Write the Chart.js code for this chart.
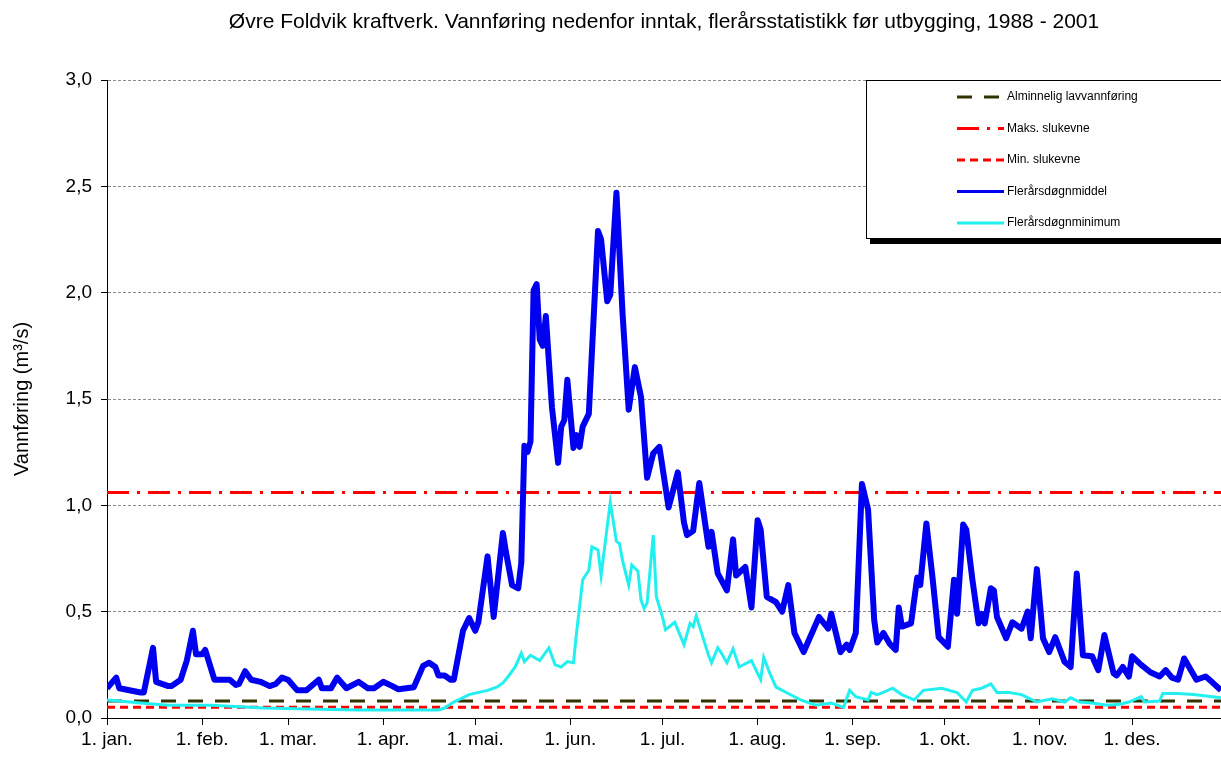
<!DOCTYPE html>
<html>
<head>
<meta charset="utf-8">
<script src="https://cdn.jsdelivr.net/npm/chart.js@4.4.1/dist/chart.umd.min.js"></script>
<style>
html, body { margin: 0; padding: 0; background: #fff; }
#ramme { width: 1221px; height: 763px; }
</style>
</head>
<body>
<div id="ramme"><canvas id="grafica" width="1221" height="763"></canvas></div>
<script>
// Dag i året (0 = 1. jan.) og vannføring i m3/s, lest av figuren
const manedDager = [0, 31, 59, 90, 120, 151, 181, 212, 243, 273, 304, 334];
const manedNavn = ["1. jan.", "1. feb.", "1. mar.", "1. apr.", "1. mai.", "1. jun.", "1. jul.", "1. aug.", "1. sep.", "1. okt.", "1. nov.", "1. des."];
const sisteDag = 363;

const middelDag = [0,3,4,11,12,15,16,20,21,24,26,28,29,31,32,35,40,42,43,45,47,50,53,55,57,59,62,65,69,70,73,75,78,82,85,87,90,93,95,100,103,105,107,108,110,112,113,116,118,120,121,124,126,129,130,132,134,135,136,137,138,139,140,141,142,143,145,147,148,149,150,152,153,154,155,157,160,161,163,164,166,168,170,172,174,176,178,180,183,186,188,189,191,193,196,197,199,202,204,205,208,210,212,213,215,218,220,222,224,227,232,235,236,239,241,242,244,246,248,250,251,253,255,257,258,259,262,264,265,267,269,271,274,276,277,279,280,282,284,285,286,288,289,290,293,295,298,300,301,303,305,307,309,312,314,316,318,321,323,325,328,329,331,333,334,337,340,343,345,347,349,351,355,358,360,363];
const middelVerdi = [0.14,0.19,0.14,0.12,0.12,0.33,0.17,0.15,0.15,0.18,0.27,0.41,0.30,0.30,0.32,0.18,0.18,0.155,0.16,0.22,0.18,0.17,0.15,0.16,0.19,0.18,0.13,0.13,0.18,0.14,0.14,0.19,0.14,0.17,0.14,0.14,0.17,0.15,0.135,0.145,0.245,0.26,0.24,0.20,0.20,0.18,0.18,0.41,0.47,0.41,0.45,0.76,0.475,0.87,0.78,0.625,0.61,0.73,1.28,1.25,1.30,2.01,2.04,1.78,1.75,1.89,1.46,1.20,1.37,1.40,1.59,1.27,1.33,1.275,1.37,1.43,2.29,2.25,1.96,1.99,2.47,1.90,1.45,1.65,1.51,1.13,1.245,1.275,0.99,1.155,0.92,0.86,0.88,1.105,0.805,0.875,0.68,0.60,0.84,0.67,0.71,0.52,0.93,0.885,0.57,0.545,0.50,0.625,0.40,0.31,0.475,0.42,0.49,0.31,0.345,0.32,0.40,1.10,0.98,0.46,0.355,0.40,0.35,0.32,0.52,0.43,0.445,0.66,0.625,0.915,0.66,0.38,0.335,0.65,0.49,0.91,0.885,0.65,0.445,0.49,0.445,0.61,0.60,0.475,0.375,0.45,0.42,0.50,0.375,0.70,0.375,0.31,0.38,0.265,0.24,0.68,0.295,0.29,0.225,0.39,0.21,0.20,0.24,0.195,0.29,0.25,0.215,0.195,0.225,0.19,0.18,0.28,0.18,0.195,0.17,0.13];

const minimumDag = [0,11,20,34,51,66,82,108,110,113,118,124,127,129,131,133,135,136,138,141,144,146,148,150,152,153,155,157,158,160,161,164,166,167,168,170,171,173,174,175,176,178,179,181,182,185,188,190,191,192,196,197,199,200,202,204,206,210,213,214,216,218,222,226,231,236,240,242,244,248,249,251,253,256,259,263,266,272,277,280,282,285,288,290,294,298,303,308,312,314,317,321,326,330,333,337,338,343,344,349,354,363];
const minimumVerdi = [0.085,0.07,0.06,0.06,0.047,0.042,0.038,0.038,0.047,0.075,0.11,0.13,0.145,0.165,0.20,0.24,0.305,0.265,0.295,0.27,0.33,0.25,0.24,0.265,0.26,0.40,0.65,0.695,0.805,0.79,0.67,1.015,0.83,0.82,0.74,0.625,0.72,0.69,0.555,0.515,0.54,0.86,0.57,0.475,0.415,0.45,0.345,0.445,0.43,0.48,0.295,0.26,0.33,0.31,0.26,0.325,0.24,0.27,0.18,0.285,0.21,0.145,0.115,0.085,0.06,0.07,0.05,0.13,0.10,0.085,0.12,0.11,0.12,0.14,0.11,0.085,0.13,0.14,0.12,0.075,0.13,0.14,0.16,0.12,0.12,0.11,0.075,0.09,0.075,0.095,0.075,0.07,0.06,0.065,0.075,0.10,0.075,0.08,0.115,0.115,0.11,0.095];

const lavvannforing = 0.08;
const maksSlukevne = 1.06;
const minSlukevne = 0.05;

const tittel = "Øvre Foldvik kraftverk. Vannføring nedenfor inntak, flerårsstatistikk før utbygging, 1988 - 2001";
const skrift = "'Liberation Sans', Arial, sans-serif";

function punkter(dager, verdier) {
    return dager.map((d, i) => ({ x: d, y: verdier[i] }));
}
function vannrett(v) {
    return [{ x: 0, y: v }, { x: sisteDag, y: v }];
}

// tegner forklaringsboksen med skygge oppe til høyre
const legendeRekkefolge = ["Alminnelig lavvannføring", "Maks. slukevne", "Min. slukevne", "Flerårsdøgnmiddel", "Flerårsdøgnminimum"];
const legendeBoks = {
    id: "legendeBoks",
    afterDraw(chart) {
        const ctx = chart.ctx;
        const x0 = 866, y0 = 80, b = 370, h = 158;
        ctx.save();
        ctx.fillStyle = "#000";
        ctx.fillRect(x0 + 4, y0 + 4, b, h + 2);
        ctx.fillStyle = "#fff";
        ctx.fillRect(x0, y0, b, h);
        ctx.strokeStyle = "#000";
        ctx.lineWidth = 1;
        ctx.strokeRect(x0 + 0.5, y0 + 0.5, b, h);
        ctx.font = "12px " + skrift;
        ctx.textBaseline = "middle";
        legendeRekkefolge.forEach((navn, i) => {
            const ds = chart.data.datasets.find(d => d.label === navn);
            const y = 97 + i * 31.5;
            ctx.beginPath();
            ctx.setLineDash(ds.borderDash || []);
            ctx.strokeStyle = ds.borderColor;
            ctx.lineWidth = 3;
            ctx.moveTo(957, y);
            ctx.lineTo(1004, y);
            ctx.stroke();
            ctx.setLineDash([]);
            ctx.fillStyle = "#000";
            ctx.fillText(navn, 1007, y);
        });
        ctx.restore();
    }
};

const ctx = document.getElementById("grafica").getContext("2d");
new Chart(ctx, {
    type: "line",
    data: {
        datasets: [
            {
                label: "Flerårsdøgnmiddel",
                data: punkter(middelDag, middelVerdi),
                borderColor: "#0000f0",
                borderWidth: 6,
                borderJoinStyle: "round",
                pointRadius: 0,
                tension: 0
            },
            {
                label: "Flerårsdøgnminimum",
                data: punkter(minimumDag, minimumVerdi),
                borderColor: "#22f0f0",
                borderWidth: 3,
                pointRadius: 0,
                tension: 0
            },
            {
                label: "Maks. slukevne",
                data: vannrett(maksSlukevne),
                borderColor: "#ff0000",
                borderWidth: 3,
                borderDash: [22, 8, 3, 8],
                pointRadius: 0
            },
            {
                label: "Alminnelig lavvannføring",
                data: vannrett(lavvannforing),
                borderColor: "#333300",
                borderWidth: 3,
                borderDash: [15, 12],
                pointRadius: 0
            },
            {
                label: "Min. slukevne",
                data: vannrett(minSlukevne),
                borderColor: "#ff0000",
                borderWidth: 3,
                borderDash: [8, 5],
                pointRadius: 0
            }
        ]
    },
    options: {
        responsive: false,
        animation: false,
        layout: { padding: 0 },
        plugins: {
            legend: { display: false },
            tooltip: { enabled: false },
            title: {
                display: true,
                text: tittel,
                fullSize: false,
                color: "#000",
                font: { family: skrift, size: 21, weight: "normal" },
                padding: { top: 10, bottom: 44.8 }
            }
        },
        scales: {
            x: {
                type: "linear",
                min: 0,
                max: sisteDag,
                afterBuildTicks: akse => { akse.ticks = manedDager.map(v => ({ value: v })); },
                afterFit: akse => { akse.height = 45; },
                ticks: {
                    autoSkip: false,
                    maxRotation: 0,
                    padding: 3,
                    color: "#000",
                    font: { family: skrift, size: 19 },
                    callback: (v, i) => manedNavn[i]
                },
                grid: { drawOnChartArea: false, drawTicks: true, tickLength: 7, color: "#000" },
                border: { display: true, color: "#000", width: 1 }
            },
            y: {
                min: 0,
                max: 3,
                afterFit: akse => { akse.width = 107; },
                ticks: {
                    stepSize: 0.5,
                    padding: 9,
                    color: "#000",
                    font: { family: skrift, size: 19 },
                    callback: v => v.toFixed(1).replace(".", ",")
                },
                grid: { color: "#8c8c8c", tickColor: "#000", tickLength: 6, drawTicks: true },
                border: { display: true, color: "#000", width: 1, dash: [3, 2] },
                title: {
                    display: true,
                    text: "Vannføring (m³/s)",
                    color: "#000",
                    font: { family: skrift, size: 20 },
                    padding: { top: 10, bottom: 0 }
                }
            }
        }
    },
    plugins: [legendeBoks]
});
</script>
</body>
</html>
